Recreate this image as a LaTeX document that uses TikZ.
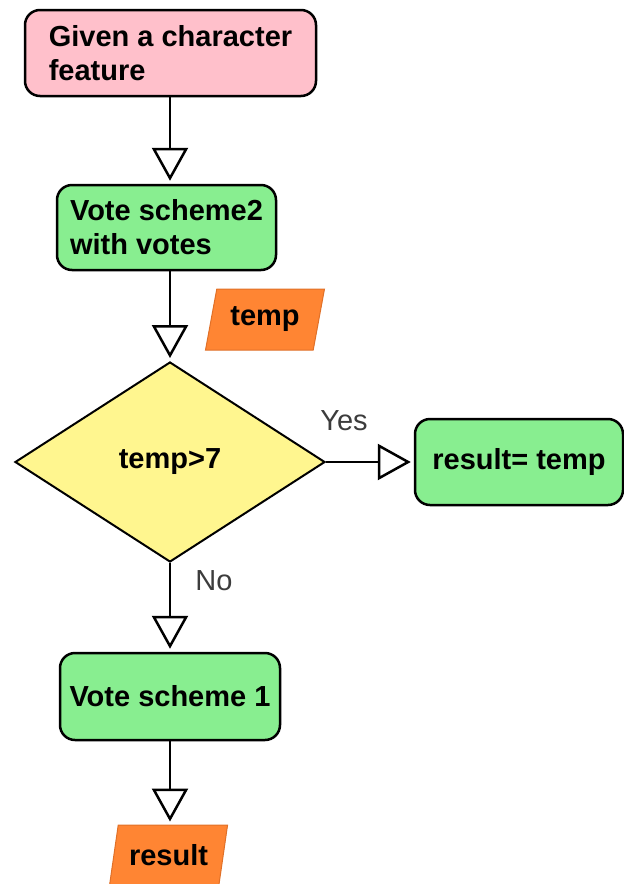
\documentclass[tikz,border=0pt]{standalone}
\usepackage{fontspec}
\setmainfont{Liberation Sans}
\usetikzlibrary{arrows.meta,shapes.geometric}

\definecolor{startpink}{HTML}{FFC0CB}
\definecolor{procgreen}{HTML}{88EE90}
\definecolor{decyellow}{HTML}{FFF68F}
\definecolor{iofill}{HTML}{FF8533}
\definecolor{ioedge}{HTML}{E07028}
\definecolor{labelgray}{HTML}{3C3C3C}

\tikzset{
  x=1pt, y=-1pt,
  every node/.style={font=\fontsize{29}{34}\selectfont\bfseries},
  box/.style={draw=black, line width=2.5pt, rounded corners=15pt,
    inner sep=0pt, align=left},
  startbox/.style={box, fill=startpink},
  procbox/.style={box, fill=procgreen},
  decision/.style={shape=diamond, draw=black, line width=2pt,
    fill=decyellow, inner sep=0pt},
  iobox/.style={shape=trapezium, trapezium left angle=72,
    trapezium right angle=108, trapezium stretches=true,
    draw=ioedge, line width=1pt, fill=iofill, inner sep=0pt},
  flow/.style={draw=black, line width=2.5pt, shorten >=3pt,
    -{Triangle[open, length=33pt, width=36pt]}},
  branch/.style={font=\fontsize{29}{34}\selectfont, text=labelgray}
}

\begin{document}
\begin{tikzpicture}
\useasboundingbox (0,0) rectangle (624,884);

% nodes
\node[startbox, minimum width=291pt, minimum height=86pt]
  (given) at (170.5,53) {Given a character\\feature};
\node[procbox, minimum width=219pt, minimum height=85pt]
  (vote2) at (166.5,227.5) {Vote scheme2\\with votes};
\node[iobox, minimum width=120pt, minimum height=61pt]
  (temp) at (265,319.5) {temp};
\node[decision, minimum width=310pt, minimum height=200pt]
  (test) at (170,462) {temp>7};
\node[procbox, minimum width=208pt, minimum height=86pt]
  (assign) at (519,462) {result= temp};
\node[procbox, minimum width=220pt, minimum height=87pt]
  (vote1) at (170,696.5) {Vote scheme 1};
\node[iobox, minimum width=119pt, minimum height=61pt]
  (result) at (168.5,855.5) {result};

% ends of the vertical connectors, all on the main column
\coordinate (givenout) at (given.south -| test.north);
\coordinate (vote2in) at (vote2.north -| test.north);
\coordinate (vote2out) at (vote2.south -| test.north);
\coordinate (resultin) at (result.north -| vote1.south);

% connectors
\draw[flow] (givenout) -- (vote2in);
\draw[flow] (vote2out) -- (test.north);
\draw[flow] (test.east) -- (assign.west);
\draw[flow] (test.south) -- (vote1.north);
\draw[flow] (vote1.south) -- (resultin);

% branch labels
\node[branch] (yes) at (344,421) {Yes};
\node[branch] (no) at (214,581) {No};
\end{tikzpicture}
\end{document}
